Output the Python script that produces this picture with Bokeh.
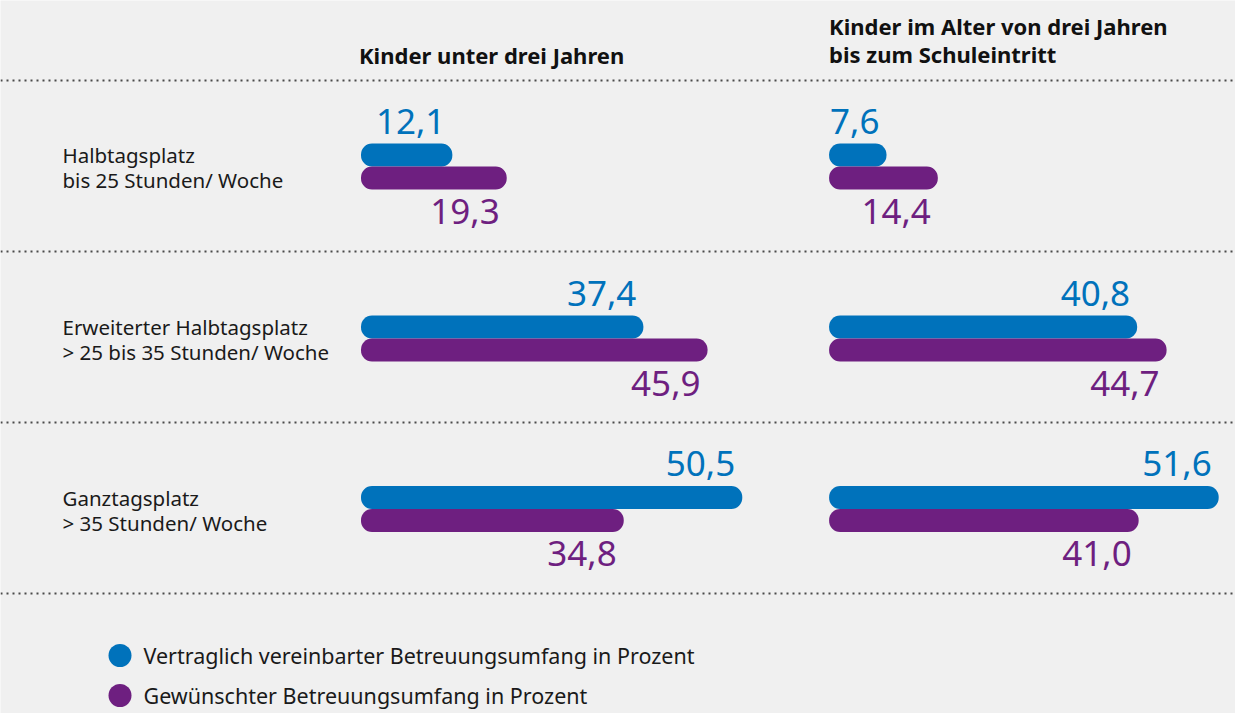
from bokeh.plotting import figure
from bokeh.models import Range1d, Span, ColumnDataSource
from bokeh.core.properties import value
from bokeh.embed import file_html
from bokeh.resources import INLINE

# ---------------- data ----------------
row_line1 = ["Halbtagsplatz", "Erweiterter Halbtagsplatz", "Ganztagsplatz"]
row_line2 = ["bis 25 Stunden/ Woche", "> 25 bis 35 Stunden/ Woche", "> 35 Stunden/ Woche"]
panel_titles_left = ["Kinder unter drei Jahren"]
panel_titles_right = ["Kinder im Alter von drei Jahren", "bis zum Schuleintritt"]
under3_contract = [12.1, 37.4, 50.5]
under3_wish = [19.3, 45.9, 34.8]
over3_contract = [7.6, 40.8, 51.6]
over3_wish = [14.4, 44.7, 41.0]
legend_labels = ["Vertraglich vereinbarter Betreuungsumfang in Prozent",
                 "Gewünschter Betreuungsumfang in Prozent"]

# ---------------- layout / style ----------------
W, H = 1235, 713
SCALE = 7.55            # px per percentage point
LEFT0_PX = 360.5        # where the left panel bars start (px)
X_START = -LEFT0_PX / SCALE
X_END = (W - LEFT0_PX) / SCALE
RIGHT_OFFSET = 62.0     # right panel offset in percentage units
BLUE = "#0072bb"
PURPLE = "#6e1f80"
BG = "#f0f0f0"
FONT = value("Noto Sans")
BAR_H = 23
boundaries = [166, 338, 508.5]   # y between blue and purple bar of each row (px)
dotted_y = [80, 251, 422, 593]
BASE_SHIFT = 0.4                 # compensation of the svg text baseline (em)

VAL_FS, ROW_FS, TITLE_FS, LEG_FS = 35, 20.5, 22, 21.5


def px_x(px):
    return X_START + px / SCALE


def base(y, fs):
    return y - BASE_SHIFT * fs


p = figure(width=W, height=H, output_backend="svg", toolbar_location=None,
           x_range=Range1d(X_START, X_END), y_range=Range1d(H, 0),
           min_border=0, background_fill_color=BG, border_fill_color=BG)
p.axis.visible = False
p.grid.visible = False
p.outline_line_color = None

# dotted separators
for yy in dotted_y:
    p.add_layout(Span(location=yy, dimension="width", line_color="#4a4a4a",
                      line_width=2, line_dash="2 4"))


def fmt(v):
    return f"{v:.1f}".replace(".", ",")


for offset, contract, wish in [(0.0, under3_contract, under3_wish),
                                (RIGHT_OFFSET, over3_contract, over3_wish)]:
    src_c = ColumnDataSource(dict(
        y=[b - BAR_H / 2 for b in boundaries],
        left=[offset] * 3,
        right=[offset + v for v in contract],
        ty=[base(b - 31.5, VAL_FS) for b in boundaries],
        lab=[fmt(v) for v in contract]))
    src_w = ColumnDataSource(dict(
        y=[b + BAR_H / 2 for b in boundaries],
        left=[offset] * 3,
        right=[offset + v for v in wish],
        ty=[base(b + 58.5, VAL_FS) for b in boundaries],
        lab=[fmt(v) for v in wish]))
    for src, col in [(src_c, BLUE), (src_w, PURPLE)]:
        p.hbar(y="y", left="left", right="right", height=BAR_H, source=src,
               fill_color=col, line_color=None, border_radius=11)
        p.text(x="right", y="ty", text="lab", source=src, x_offset=-7,
               text_align="right", text_baseline="alphabetic",
               text_font=FONT, text_font_size=f"{VAL_FS}px", text_color=col)

# row labels
p.text(x=[px_x(62)] * 3, y=[base(b - 3, ROW_FS) for b in boundaries], text=row_line1,
       text_font=FONT, text_font_size=f"{ROW_FS}px", text_color="#1a1a1a",
       text_baseline="alphabetic", text_align="left")
p.text(x=[px_x(62)] * 3, y=[base(b + 22, ROW_FS) for b in boundaries], text=row_line2,
       text_font=FONT, text_font_size=f"{ROW_FS}px", text_color="#1a1a1a",
       text_baseline="alphabetic", text_align="left")

# panel titles
p.text(x=[0.0], y=[base(63, TITLE_FS)], text=panel_titles_left, x_offset=-2,
       text_font=FONT, text_font_size=f"{TITLE_FS}px", text_font_style="bold",
       text_color="#111111", text_baseline="alphabetic", text_align="left")
p.text(x=[RIGHT_OFFSET] * 2, y=[base(34, TITLE_FS), base(62, TITLE_FS)],
       text=panel_titles_right,
       text_font=FONT, text_font_size=f"{TITLE_FS}px", text_font_style="bold",
       text_color="#111111", text_baseline="alphabetic", text_align="left")

# legend
leg_y = [655, 695]
p.scatter(x=[px_x(119.5)] * 2, y=leg_y, size=23, marker="circle",
          fill_color=[BLUE, PURPLE], line_color=None)
p.text(x=[px_x(143)] * 2, y=[base(v + 9, LEG_FS) for v in leg_y], text=legend_labels,
       text_font=FONT, text_font_size=f"{LEG_FS}px", text_color="#1a1a1a",
       text_baseline="alphabetic", text_align="left")

open("out.html", "w").write(file_html(p, INLINE))
